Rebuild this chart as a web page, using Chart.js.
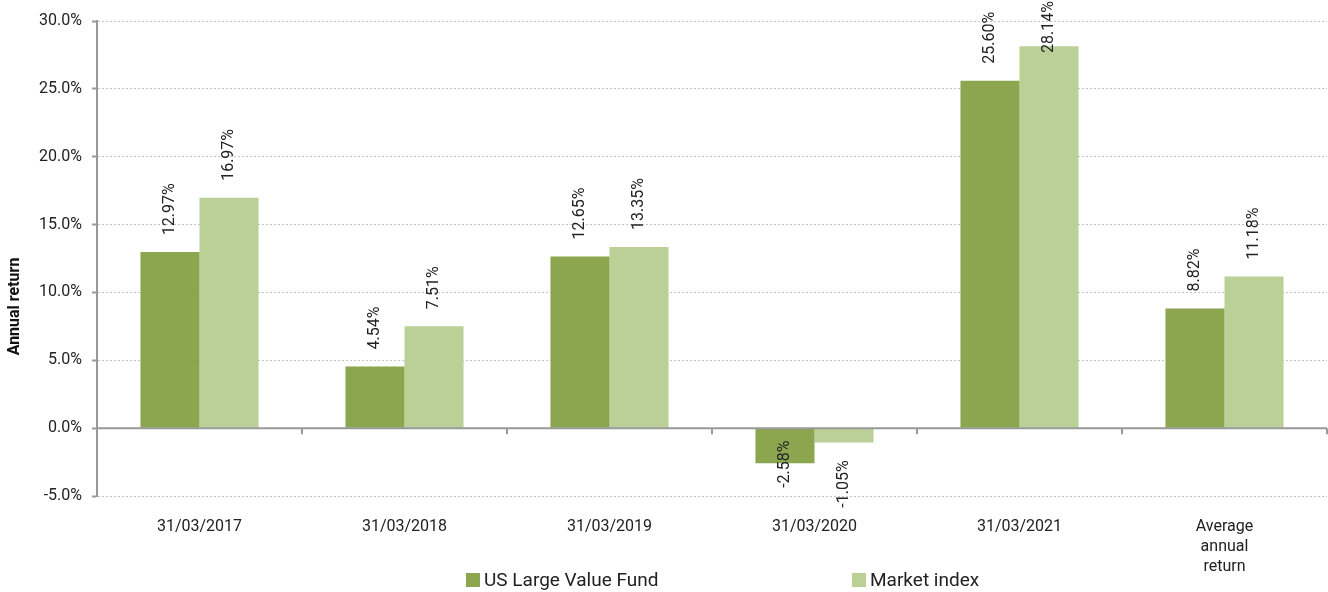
<!DOCTYPE html>
<html>
<head>
<meta charset="utf-8">
<script src="https://cdn.jsdelivr.net/npm/chart.js@4/dist/chart.umd.min.js"></script>
<style>
  html, body { margin: 0; padding: 0; background: #fff; }
  #wrap { width: 1328px; height: 592px; position: relative; }
</style>
</head>
<body>
<div id="wrap"><canvas id="c" width="1328" height="592"></canvas></div>
<script>
const categories = ['31/03/2017', '31/03/2018', '31/03/2019', '31/03/2020', '31/03/2021', ['Average', 'annual', 'return']];
const fundValues = [12.97, 4.54, 12.65, -2.58, 25.60, 8.82];
const indexValues = [16.97, 7.51, 13.35, -1.05, 28.14, 11.18];
const seriesNames = ['US Large Value Fund', 'Market index'];
const yTicks = [-5, 0, 5, 10, 15, 20, 25, 30];
const axisTitle = 'Annual return';

const FONT = 'Roboto, "Liberation Sans", sans-serif';
const TEXT = '#222';
const AXIS = '#999';

const overlay = {
  id: 'overlay',
  afterDatasetsDraw(chart) {
    const ctx = chart.ctx;
    const x = chart.scales.x, y = chart.scales.y;
    const area = chart.chartArea;
    const zeroY = y.getPixelForValue(0);
    ctx.save();
    // zero line
    ctx.strokeStyle = AXIS; ctx.lineWidth = 2; ctx.setLineDash([]);
    ctx.beginPath(); ctx.moveTo(area.left, zeroY); ctx.lineTo(area.right, zeroY); ctx.stroke();
    // category boundary tick marks
    const n = categories.length;
    const step = (x.right - x.left) / n;
    ctx.lineWidth = 2;
    for (let i = 1; i <= n; i++) {
      const px = Math.round(x.left + i * step);
      ctx.beginPath(); ctx.moveTo(px, zeroY); ctx.lineTo(px, zeroY + 6); ctx.stroke();
    }
    // data labels
    ctx.font = '16px ' + FONT;
    ctx.fillStyle = TEXT;
    ctx.textBaseline = 'middle';
    chart.data.datasets.forEach((ds, di) => {
      const meta = chart.getDatasetMeta(di);
      meta.data.forEach((bar, i) => {
        const v = ds.data[i];
        const txt = v.toFixed(2) + '%';
        const w = ctx.measureText(txt).width;
        let startY;
        if (v >= 0) {
          startY = bar.y - 17;
          startY = Math.max(startY, w + 1);
        } else {
          startY = bar.y + 18 + w;
          if (startY > area.bottom + 14) startY = bar.y + 1 + w / 2;
        }
        ctx.save();
        ctx.translate(bar.x, startY);
        ctx.rotate(-Math.PI / 2);
        ctx.textAlign = 'left';
        ctx.fillText(txt, 0, 0);
        ctx.restore();
      });
    });
    // y axis title
    ctx.save();
    ctx.font = 'bold 16px ' + FONT;
    ctx.fillStyle = '#111';
    ctx.translate(15, (area.top + chart.height) / 2);
    ctx.rotate(-Math.PI / 2);
    ctx.textAlign = 'center';
    ctx.fillText(axisTitle, 0, 0);
    ctx.restore();
    // legend
    const cx = (area.left + area.right) / 2;
    const slot = 386;
    const ly = chart.height - 12;
    ctx.font = '19px ' + FONT;
    ctx.textAlign = 'left';
    chart.data.datasets.forEach((ds, di) => {
      const bx = cx - 246 + di * slot;
      ctx.fillStyle = ds.backgroundColor;
      ctx.fillRect(bx, ly - 7, 14, 14);
      ctx.fillStyle = TEXT;
      ctx.fillText(ds.label, bx + 18, ly + 1);
    });
    ctx.restore();
  }
};

new Chart(document.getElementById('c'), {
  type: 'bar',
  data: {
    labels: categories,
    datasets: [
      { label: seriesNames[0], data: fundValues, backgroundColor: '#8BA64F', borderWidth: 0 },
      { label: seriesNames[1], data: indexValues, backgroundColor: '#BAD096', borderWidth: 0 }
    ]
  },
  options: {
    responsive: false,
    animation: false,
    layout: { padding: { top: 21, right: 1, bottom: 6, left: 0 } },
    plugins: { legend: { display: false }, tooltip: { enabled: false } },
    datasets: { bar: { categoryPercentage: 0.576, barPercentage: 1.0 } },
    scales: {
      x: {
        grid: { display: false, drawTicks: false },
        border: { display: false },
        ticks: { color: TEXT, font: { family: FONT, size: 16, lineHeight: 1.25 }, padding: 21, maxRotation: 0, autoSkip: false },
        afterFit(s) { s.height = 90; }
      },
      y: {
        min: -5, max: 30,
        afterBuildTicks(s) { s.ticks = yTicks.map(v => ({ value: v })); },
        ticks: { color: TEXT, font: { family: FONT, size: 16 }, padding: 10, callback: v => v.toFixed(1) + '%' },
        grid: { color: '#c4c4c4', lineWidth: 1, tickLength: 5, tickColor: AXIS, tickWidth: 2, tickBorderDash: [] },
        border: { display: true, color: AXIS, width: 2, dash: [2, 2] },
        afterFit(s) { s.width = 97; }
      }
    }
  },
  plugins: [overlay]
});
</script>
</body>
</html>
